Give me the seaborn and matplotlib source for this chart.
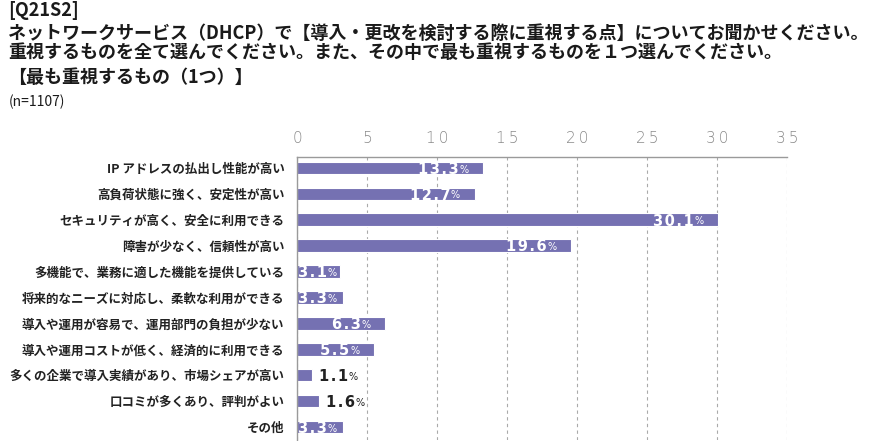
import matplotlib
matplotlib.use('Agg')
import matplotlib.pyplot as plt
import seaborn as sns
import pandas as pd

categories = [
    "IP アドレスの払出し性能が高い",
    "高負荷状態に強く、安定性が高い",
    "セキュリティが高く、安全に利用できる",
    "障害が少なく、信頼性が高い",
    "多機能で、業務に適した機能を提供している",
    "将来的なニーズに対応し、柔軟な利用ができる",
    "導入や運用が容易で、運用部門の負担が少ない",
    "導入や運用コストが低く、経済的に利用できる",
    "多くの企業で導入実績があり、市場シェアが高い",
    "口コミが多くあり、評判がよい",
    "その他",
]
values = [13.3, 12.7, 30.1, 19.6, 3.1, 3.3, 6.3, 5.5, 1.1, 1.6, 3.3]
x_ticks = [0, 5, 10, 15, 20, 25, 30, 35]
title_lines = [
    "[Q21S2]",
    "ネットワークサービス（DHCP）で【導入・更改を検討する際に重視する点】についてお聞かせください。",
    "重視するものを全て選んでください。また、その中で最も重視するものを１つ選んでください。",
    "【最も重視するもの（1つ）】",
]
n_label = "(n=1107)"

sns.set_theme(style='white')
plt.rcParams['font.family'] = ['Noto Sans CJK JP', 'DejaVu Sans']

W, H = 886, 441
fig = plt.figure(figsize=(W / 100, H / 100), dpi=100)
ax = fig.add_axes([297 / W, 1 - 440 / H, 490 / W, 283 / H])

df = pd.DataFrame({'cat': categories, 'val': values})
sns.barplot(data=df, x='val', y='cat', color='#7571b2', saturation=1,
            width=0.48, edgecolor='white', linewidth=0.8, ax=ax)

ax.set_xlim(0, 35)
ax.set_ylim(10.5, -0.42)
ax.xaxis.tick_top()
ax.set_xticks(x_ticks)
ax.set_xticklabels(["\u2009".join(str(t)) for t in x_ticks],
                   fontsize=11, color='#8a8a8a', family='DejaVu Sans',
                   fontweight='light')
ax.tick_params(axis='x', length=0, pad=8)
ax.tick_params(axis='y', length=0, pad=9)
for lab in ax.get_yticklabels():
    lab.set_fontsize(9)
    lab.set_fontweight('bold')
    lab.set_color('#222222')
ax.set_xlabel('')
ax.set_ylabel('')

ax.set_axisbelow(True)
ax.grid(axis='x', linestyle=(0, (3, 3)), color='#aaaaaa', linewidth=0.8)
ax.grid(axis='y', visible=False)
for s in ['right', 'bottom']:
    ax.spines[s].set_visible(False)
for s in ['top', 'left']:
    ax.spines[s].set_color('#9a9a9a')
    ax.spines[s].set_linewidth(1.0)

for i, v in enumerate(values):
    if v < 2:
        x, ha, col = v + 0.45, 'left', '#222222'
    elif v < 5:
        x, ha, col = 0.1, 'left', 'white'
    else:
        x, ha, col = v - 1.75, 'right', 'white'
    t = ax.text(x, i + 0.05, "\u200a".join(f"{v:.1f}"), ha=ha, va='center',
                fontsize=10.5, color=col, family='DejaVu Sans',
                fontweight='bold')
    ax.annotate("%", xy=(1, 0.14), xycoords=t, xytext=(0.4, 0),
                textcoords='offset points', ha='left', va='bottom',
                fontsize=7, color=col, family='DejaVu Sans')

ys = [10, 33, 53, 77]
for y, line in zip(ys, title_lines):
    fig.text(8 / W, 1 - y / H, line, ha='left', va='center', fontsize=13,
             fontweight='bold', color='#1a1a1a')
fig.text(9 / W, 1 - 102 / H, n_label, ha='left', va='center', fontsize=10,
         color='#1a1a1a')

fig.savefig('out.png', dpi=100)
